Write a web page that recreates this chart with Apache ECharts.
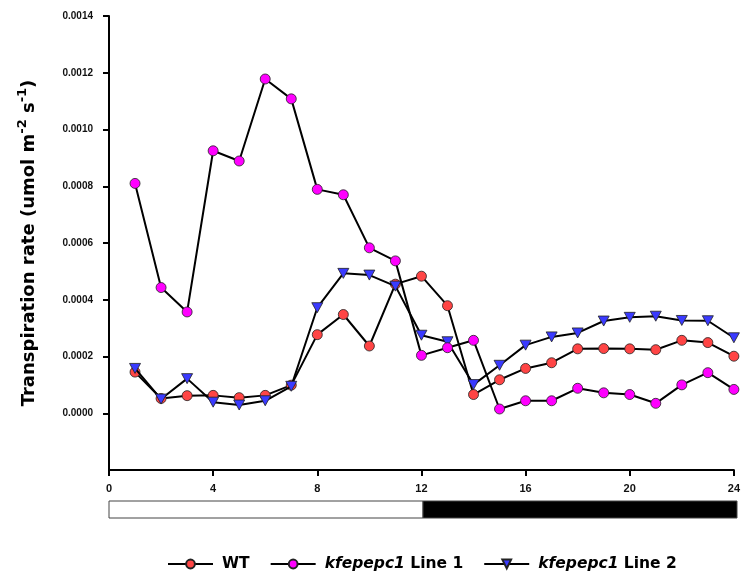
<!DOCTYPE html>
<html>
<head>
<meta charset="utf-8">
<script src="https://cdn.jsdelivr.net/npm/echarts@6/dist/echarts.min.js"></script>
<style>
  html, body { margin: 0; padding: 0; background: #fff; }
  #chart { width: 743px; height: 581px; }
</style>
</head>
<body>
<div id="chart"></div>
<script>
// Time of day (h)
const hours = [1, 2, 3, 4, 5, 6, 7, 8, 9, 10, 11, 12, 13, 14, 15, 16, 17, 18, 19, 20, 21, 22, 23, 24];

// Transpiration rate (umol m-2 s-1)
const wt = [0.000145, 0.000052, 0.000062, 0.000063, 0.000055, 0.000063, 0.000099, 0.000277, 0.000348, 0.000237,
            0.000455, 0.000483, 0.000379, 0.000066, 0.000118, 0.000158, 0.000178, 0.000227, 0.000228, 0.000227,
            0.000224, 0.000257, 0.000249, 0.000201];
const line1 = [0.000810, 0.000443, 0.000357, 0.000925, 0.000889, 0.001178, 0.001108, 0.000789, 0.000770, 0.000583,
               0.000537, 0.000204, 0.000231, 0.000257, 0.000015, 0.000044, 0.000044, 0.000088, 0.000072, 0.000066,
               0.000035, 0.000100, 0.000143, 0.000084];
const line2 = [0.000158, 0.000050, 0.000122, 0.000039, 0.000029, 0.000044, 0.000095, 0.000372, 0.000493, 0.000487,
               0.000448, 0.000275, 0.000252, 0.000101, 0.000169, 0.000240, 0.000269, 0.000283, 0.000325, 0.000338,
               0.000342, 0.000327, 0.000326, 0.000266];

// Axis ticks
const yTicks = [0, 0.0002, 0.0004, 0.0006, 0.0008, 0.0010, 0.0012, 0.0014];
const xTicks = [0, 4, 8, 12, 16, 20, 24];

// Light / dark period bar
const phaseStart = [0, 12];
const phaseEnd = [12, 24];
const phaseFill = ['#ffffff', '#000000'];

const TICK_FONT = '"Liberation Sans", Arial, sans-serif';
const TITLE_FONT = '"DejaVu Sans", Verdana, sans-serif';

function pairs(vals) {
  return hours.map((h, i) => [h, vals[i]]);
}

function lineSeries(name, vals, color, symbol, size, rotate, z) {
  return {
    name: name,
    type: 'line',
    xAxisIndex: 0,
    yAxisIndex: 0,
    data: pairs(vals),
    symbol: symbol,
    symbolSize: size,
    symbolRotate: rotate,
    showAllSymbol: true,
    z: z,
    lineStyle: { color: '#000', width: 2 },
    itemStyle: { color: color, borderColor: '#222', borderWidth: 0.8 },
    emphasis: { disabled: true },
    animation: false
  };
}

const chart = echarts.init(document.getElementById('chart'), null, { renderer: 'canvas' });

chart.setOption({
  backgroundColor: '#ffffff',
  animation: false,
  textStyle: { fontFamily: TICK_FONT },
  grid: [
    { left: 109, right: 6, top: 16, height: 454, containLabel: false },
    { left: 109, right: 6, top: 501, height: 17, containLabel: false }
  ],
  xAxis: [
    {
      type: 'value', gridIndex: 0, min: 0, max: 24, interval: 4,
      axisLine: { onZero: false, lineStyle: { color: '#000', width: 2 } },
      axisTick: { show: true, inside: false, length: 6, lineStyle: { color: '#000', width: 2 }, customValues: xTicks },
      axisLabel: { customValues: xTicks, margin: 13, color: '#111', fontSize: 11, fontWeight: 'bold', fontFamily: TICK_FONT },
      splitLine: { show: false }
    },
    { type: 'value', gridIndex: 1, min: 0, max: 24, show: false }
  ],
  yAxis: [
    {
      type: 'value', gridIndex: 0, min: -0.0002, max: 0.0014, interval: 0.0002,
      axisLine: { show: true, lineStyle: { color: '#000', width: 2 } },
      axisTick: { show: true, inside: false, length: 6, lineStyle: { color: '#000', width: 2 }, customValues: yTicks },
      axisLabel: {
        customValues: yTicks, margin: 16, color: '#111', fontSize: 10, fontWeight: 'bold', fontFamily: TICK_FONT,
        formatter: v => v.toFixed(4)
      },
      splitLine: { show: false },
      name: 'Transpiration rate (umol m{sup|-2} s{sup|-1})',
      nameLocation: 'middle',
      nameGap: 67,
      nameTextStyle: {
        fontSize: 18, fontWeight: 'bold', color: '#000', fontFamily: TITLE_FONT, lineHeight: 26,
        rich: {
          sup: { fontSize: 13, fontWeight: 'bold', color: '#000', fontFamily: TITLE_FONT, lineHeight: 14, verticalAlign: 'top' }
        }
      }
    },
    { type: 'value', gridIndex: 1, min: 0, max: 1, show: false }
  ],
  legend: {
    top: 554,
    left: 167,
    padding: 0,
    itemWidth: 45,
    itemHeight: 11,
    itemGap: 20,
    symbolRotate: 'inherit',
    data: ['WT', 'kfepepc1 Line 1', 'kfepepc1 Line 2'],
    formatter: function (name) {
      if (name.indexOf('kfepepc1') === 0) {
        return '{it|kfepepc1}' + name.slice(8);
      }
      return name;
    },
    textStyle: {
      fontSize: 15.5, fontWeight: 'bold', color: '#000', fontFamily: TITLE_FONT, lineHeight: 20, padding: [0, 0, 0, 4],
      rich: { it: { fontSize: 15.5, fontWeight: 'bold', fontStyle: 'italic', color: '#000', fontFamily: TITLE_FONT, lineHeight: 20 } }
    }
  },
  series: [
    lineSeries('WT', wt, '#ff4545', 'circle', 10, 0, 2),
    lineSeries('kfepepc1 Line 1', line1, '#ff00ff', 'circle', 10, 0, 4),
    lineSeries('kfepepc1 Line 2', line2, '#3a3aff', 'triangle', [11, 10], 180, 3),
    {
      type: 'custom',
      xAxisIndex: 1,
      yAxisIndex: 1,
      silent: true,
      data: phaseStart.map((s, i) => [s, phaseEnd[i], i]),
      renderItem: function (params, api) {
        const p0 = api.coord([api.value(0), 1]);
        const p1 = api.coord([api.value(1), 0]);
        return {
          type: 'rect',
          shape: { x: p0[0], y: p0[1], width: p1[0] - p0[0], height: p1[1] - p0[1] },
          style: { fill: phaseFill[api.value(2)], stroke: '#444', lineWidth: 1 }
        };
      }
    }
  ]
});
</script>
</body>
</html>
